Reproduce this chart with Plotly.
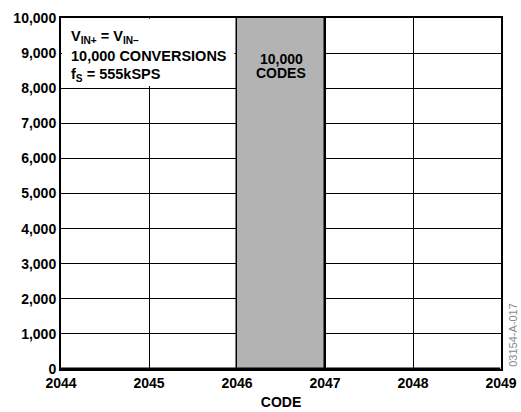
import plotly.graph_objects as go

codes = [2044, 2045, 2046, 2047, 2048]
counts = [0, 0, 10000, 0, 0]
x_ticks = [2044, 2045, 2046, 2047, 2048, 2049]
y_ticks = [0, 1000, 2000, 3000, 4000, 5000, 6000, 7000, 8000, 9000, 10000]
y_labels = ["0", "1,000", "2,000", "3,000", "4,000", "5,000", "6,000", "7,000", "8,000", "9,000", "10,000"]
box_lines = ["V<sub>IN+</sub> = V<sub>IN–</sub>", "10,000 CONVERSIONS", "f<sub>S</sub> = 555kSPS"]
bar_label = ["10,000", "CODES"]

FONT = "Liberation Sans, Arial, sans-serif"
BOLD = dict(family=FONT, color="black", weight="bold")

fig = go.Figure()
fig.add_trace(go.Bar(
    x=codes, y=counts, width=1, offset=0,
    marker=dict(color="#b3b3b3", line=dict(color="black", width=1.5)),
    showlegend=False, hoverinfo="skip",
))

fig.add_shape(type="rect", xref="x", yref="y", x0=2044.01, x1=2045.97, y0=8060, y1=9980,
              fillcolor="white", line=dict(width=0), layer="between")

# text-box lines (y in data units)
for txt, yv in zip(box_lines, [9460, 8917, 8376]):
    fig.add_annotation(x=2044.09, y=yv, xref="x", yref="y", xanchor="left", yanchor="middle",
                       align="left", showarrow=False, text=txt,
                       font=dict(size=14.5, **BOLD))
for txt, yv in zip(bar_label, [8846, 8420]):
    fig.add_annotation(x=2046.5, y=yv, xref="x", yref="y", showarrow=False,
                       text=txt, align="center", font=dict(size=14, **BOLD))

fig.add_annotation(x=1.027, y=0.097, xref="paper", yref="paper", xanchor="center", yanchor="middle",
                   showarrow=False, textangle=-90, text="03154-A-017",
                   font=dict(family=FONT, size=11, color="#8a8a8a"))

fig.update_xaxes(range=[2044, 2049], tickvals=x_ticks, ticktext=[str(v) for v in x_ticks],
                 showgrid=True, gridcolor="black", gridwidth=1,
                 showline=True, linecolor="black", linewidth=2, mirror=True,
                 ticks="", zeroline=False, automargin=False,
                 tickfont=dict(size=14, **BOLD),
                 title=dict(text="CODE", font=dict(size=14, **BOLD), standoff=7))
fig.update_yaxes(range=[0, 10000], tickvals=y_ticks, ticktext=y_labels,
                 showgrid=True, gridcolor="black", gridwidth=1,
                 showline=True, linecolor="black", linewidth=2, mirror=True,
                 ticks="", zeroline=False, automargin=False,
                 tickfont=dict(size=14, **BOLD))

fig.update_layout(width=521, height=412, margin=dict(l=61, r=20, t=18, b=43),
                  paper_bgcolor="white", plot_bgcolor="white", bargap=0)

fig.write_html("out.html", config={"displayModeBar": False},
               post_script="document.body.style.margin='0';document.body.style.overflow='hidden';")
